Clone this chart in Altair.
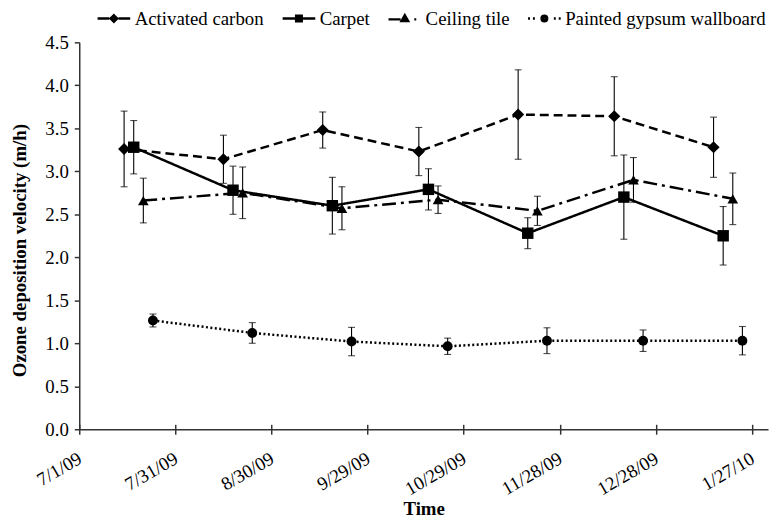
import altair as alt
import pandas as pd

FONT = "Liberation Serif"

series_names = ["Activated carbon", "Carpet", "Ceiling tile", "Painted gypsum wallboard"]

ac_dates = ["2009-07-15", "2009-08-15", "2009-09-15", "2009-10-15", "2009-11-15", "2009-12-15", "2010-01-15"]
ac_vals = [3.26, 3.14, 3.48, 3.23, 3.66, 3.64, 3.28]
ac_err = [0.44, 0.28, 0.21, 0.28, 0.52, 0.46, 0.35]

carpet_dates = ["2009-07-18", "2009-08-18", "2009-09-18", "2009-10-18", "2009-11-18", "2009-12-18", "2010-01-18"]
carpet_vals = [3.28, 2.78, 2.60, 2.79, 2.28, 2.70, 2.25]
carpet_err = [0.31, 0.28, 0.33, 0.24, 0.18, 0.49, 0.34]

tile_dates = ["2009-07-21", "2009-08-21", "2009-09-21", "2009-10-21", "2009-11-21", "2009-12-21", "2010-01-21"]
tile_vals = [2.66, 2.75, 2.57, 2.67, 2.54, 2.90, 2.68]
tile_err = [0.26, 0.30, 0.25, 0.16, 0.17, 0.26, 0.30]

gyp_dates = ["2009-07-24", "2009-08-24", "2009-09-24", "2009-10-24", "2009-11-24", "2009-12-24", "2010-01-24"]
gyp_vals = [1.265, 1.12, 1.02, 0.965, 1.03, 1.03, 1.03]
gyp_err = [0.075, 0.12, 0.165, 0.095, 0.15, 0.125, 0.165]

x_domain = ["2009-07-01", "2010-02-01"]
x_ticks = ["2009-07-01", "2009-07-31", "2009-08-30", "2009-09-29", "2009-10-29",
           "2009-11-28", "2009-12-28", "2010-01-27"]
y_ticks = [0.0, 0.5, 1.0, 1.5, 2.0, 2.5, 3.0, 3.5, 4.0, 4.5]

line_dashes = [[9, 5], [1, 0], [14, 5, 3, 5], [2, 2.5]]
point_shapes = ["diamond", "square", "triangle-up", "circle"]
point_sizes = [150, 100, 140, 85]

# legend glyphs: line pattern + marker (marker filled by nested outlines)
legend_paths = [
    "M-1,0H-0.28M0.28,0H1"
    "M0,-0.2L0.2,0L0,0.2L-0.2,0Z M0,-0.08L0.08,0L0,0.08L-0.08,0Z",
    "M-1,0H1"
    "M-0.17,-0.17H0.17V0.17H-0.17Z M-0.06,-0.06H0.06V0.06H-0.06Z",
    "M-1,0.05H-0.26"
    "M0,-0.2L0.2,0.15L-0.2,0.15Z M0,-0.05L0.07,0.08L-0.07,0.08Z"
    "M0.58,0.05H0.7",
    "M-1,0H-0.88M-0.7,0H-0.58M0.58,0H0.7M0.88,0H1"
    "M0,-0.17A0.17,0.17 0 1,1 0,0.17A0.17,0.17 0 1,1 0,-0.17Z"
    "M0,-0.06A0.06,0.06 0 1,1 0,0.06A0.06,0.06 0 1,1 0,-0.06Z",
]

rows = []
for name, dates, vals, errs in zip(series_names,
                                   [ac_dates, carpet_dates, tile_dates, gyp_dates],
                                   [ac_vals, carpet_vals, tile_vals, gyp_vals],
                                   [ac_err, carpet_err, tile_err, gyp_err]):
    for d, v, e in zip(dates, vals, errs):
        rows.append({"series": name, "date": d, "value": v,
                     "lo": round(v - e, 4), "hi": round(v + e, 4)})
df = pd.DataFrame(rows)


def dt(s):
    y, m, d = map(int, s.split("-"))
    return alt.DateTime(year=y, month=m, date=d, utc=True)


x_scale = alt.Scale(type="utc", domain=[dt(x_domain[0]), dt(x_domain[1])])
y_scale = alt.Scale(domain=[0, 4.5], nice=False, zero=True)

x_axis = alt.Axis(values=[dt(s) for s in x_ticks],
                  labelExpr="utcFormat(datum.value, '%-m/%-d/%y')",
                  labelAngle=330, labelAlign="right", labelBaseline="top", labelPadding=15,
                  labelOffset=-4,
                  labelFontSize=19, labelFont=FONT, labelColor="black",
                  labelOverlap=False, labelFlush=False,
                  tickSize=5, tickColor="#333", tickWidth=1.5,
                  domainColor="#333", domainWidth=1.5, grid=False,
                  title="Time", titleFont=FONT, titleFontSize=19, titleFontWeight="bold",
                  titleColor="black", titleY=86, titleBaseline="alphabetic")
x_axis_cross = alt.Axis(orient="top", offset=-391, values=[dt(s) for s in x_ticks],
                        labels=False, domain=False, grid=False, title=None,
                        tickSize=5, tickColor="#333", tickWidth=1.5)
y_axis = alt.Axis(values=y_ticks, format=".1f", labelFontSize=19, labelFont=FONT,
                  labelColor="black", labelPadding=6,
                  tickSize=5, tickColor="#333", tickWidth=1.5,
                  domainColor="#333", domainWidth=1.5, grid=False,
                  title="Ozone deposition velocity (m/h)", titleFont=FONT, titleFontSize=19,
                  titleFontWeight="bold", titleColor="black", titleX=-54, titleY=210,
                  titleBaseline="alphabetic")

X_main = alt.X("date:T", scale=x_scale, axis=x_axis)
X_none = alt.X("date:T", scale=x_scale, axis=None)

base = alt.Chart(df)

lines = base.mark_line(color="black", strokeWidth=2.5).encode(
    x=X_main,
    y=alt.Y("value:Q", scale=y_scale, axis=y_axis),
    detail="series:N",
    strokeDash=alt.StrokeDash("series:N", scale=alt.Scale(domain=series_names, range=line_dashes),
                              legend=None),
)

err_rules = base.mark_rule(color="black", strokeWidth=1.1).encode(
    x=X_none,
    y=alt.Y("lo:Q", scale=y_scale, axis=y_axis),
    y2="hi:Q",
)

caps_lo = base.mark_tick(color="black", thickness=1.1, size=7, orient="horizontal").encode(
    x=X_none, y=alt.Y("lo:Q", scale=y_scale, axis=y_axis))
caps_hi = base.mark_tick(color="black", thickness=1.1, size=7, orient="horizontal").encode(
    x=X_none, y=alt.Y("hi:Q", scale=y_scale, axis=y_axis))

points = base.mark_point(filled=True, color="black", opacity=1).encode(
    x=alt.X("date:T", scale=x_scale, axis=x_axis_cross),
    y=alt.Y("value:Q", scale=y_scale, axis=y_axis),
    shape=alt.Shape("series:N", scale=alt.Scale(domain=series_names, range=point_shapes), legend=None),
    size=alt.Size("series:N", scale=alt.Scale(domain=series_names, range=point_sizes), legend=None),
)

legend_layer = base.transform_filter("false").mark_point(
    filled=False, color="black", strokeWidth=2.5, size=1089, opacity=1
).encode(
    x=X_none,
    y=alt.Y("value:Q", scale=y_scale, axis=y_axis),
    shape=alt.Shape("series:N", scale=alt.Scale(domain=series_names, range=legend_paths),
                    legend=alt.Legend(orient="none", legendX=17, legendY=-42, direction="horizontal",
                                      title=None, labelFont=FONT, labelFontSize=19,
                                      labelColor="black", labelLimit=500, symbolSize=1089,
                                      symbolStrokeWidth=2.5, symbolStrokeColor="black",
                                      columnPadding=13, labelOffset=3)),
)

chart = alt.layer(err_rules, caps_lo, caps_hi, lines, points, legend_layer).resolve_scale(
    shape="independent", size="independent"
).resolve_axis(x="independent").properties(
    width=696, height=391,
    autosize=alt.AutoSizeParams(type="none"),
    padding={"left": 72, "top": 32, "right": 2, "bottom": 88},
    background="white",
).configure_view(stroke=None)

chart.save("out.html", embed_options={"renderer": "svg", "actions": False})
